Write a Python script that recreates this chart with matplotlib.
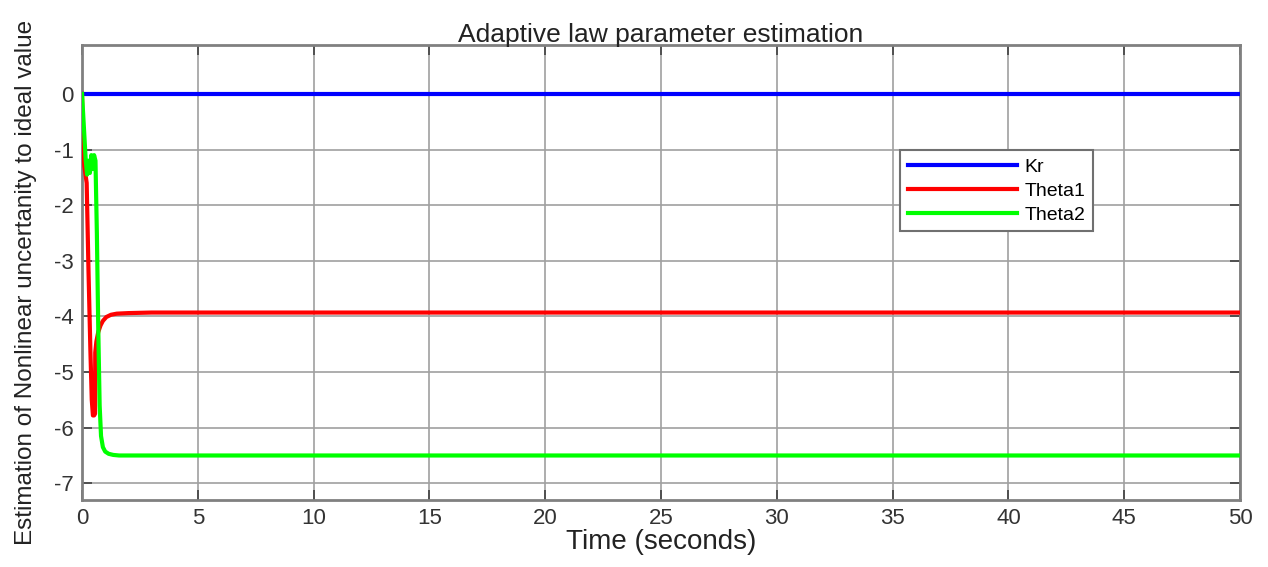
import matplotlib
matplotlib.use("Agg")
import matplotlib.pyplot as plt
import numpy as np

# ---- data ----
kr_t = [0, 50]
kr_v = [0, 0]

theta1_t = [0, 0.03, 0.1, 0.2, 0.28, 0.36, 0.42, 0.47, 0.52, 0.56, 0.57, 0.62, 0.7, 0.8, 0.9, 1.05, 1.25, 1.5, 2.0, 3.0, 5.0, 50]
theta1_v = [0, -0.8, -1.3, -1.6, -3.2, -4.6, -5.5, -5.78, -5.78, -5.75, -4.65, -4.45, -4.28, -4.16, -4.08, -4.01, -3.97, -3.95, -3.94, -3.93, -3.93, -3.93]

theta2_t = [0, 0.08, 0.16, 0.22, 0.28, 0.34, 0.4, 0.46, 0.52, 0.58, 0.64, 0.7, 0.76, 0.82, 0.9, 1.0, 1.15, 1.35, 1.6, 2.0, 3.0, 50]
theta2_v = [0, -0.6, -1.2, -1.45, -1.2, -1.42, -1.1, -1.35, -1.1, -1.2, -2.5, -4.2, -5.6, -6.15, -6.35, -6.43, -6.47, -6.49, -6.5, -6.5, -6.5, -6.5]

labels = ["Kr", "Theta1", "Theta2"]
xticks = list(range(0, 51, 5))
yticks = list(range(-7, 1))

# ---- figure ----
plt.rcParams['font.family'] = ['Liberation Sans', 'DejaVu Sans']
plt.rcParams['axes.unicode_minus'] = False
fig = plt.figure(figsize=(12.68, 5.67), dpi=100)
ax = fig.add_axes([0.0647, 0.1182, 0.9133, 0.8024])

lw = 3.0
ax.plot(kr_t, kr_v, color='#0000ff', lw=lw, label=labels[0], zorder=3)
ax.plot(theta1_t, theta1_v, color='#ff0000', lw=lw, label=labels[1], zorder=4)
ax.plot(theta2_t, theta2_v, color='#00ff00', lw=lw, label=labels[2], zorder=5)

ax.set_xlim(0, 50)
ax.set_ylim(-7.3, 0.88)
ax.set_xticks(xticks)
ax.set_yticks(yticks)
ax.grid(True, color='#a0a0a0', lw=1.2, ls='-')
ax.set_axisbelow(True)

ax.tick_params(direction='in', top=True, right=True, length=7, width=1.2,
               colors='#404040', labelsize=16, labelcolor='#333333', pad=6)
for s in ax.spines.values():
    s.set_color('#808080')
    s.set_linewidth(2.0)

ax.set_title("Adaptive law parameter estimation", fontsize=19, color='#222222', pad=2)
ax.set_xlabel("Time (seconds)", fontsize=20, color='#222222', labelpad=0)
ax.set_ylabel("Estimation of Nonlinear uncertanity to ideal value", fontsize=17.5,
              color='#222222')
ax.yaxis.set_label_coords(-0.039, 0.479)

leg = ax.legend(loc='upper left', bbox_to_anchor=(0.7064, 0.769), fontsize=14,
                handlelength=5.6, fancybox=False, framealpha=1, edgecolor='#707070',
                borderpad=0.4, labelspacing=0.33, handletextpad=0.4, borderaxespad=0)
leg.get_frame().set_linewidth(1.5)

fig.savefig("out.png", dpi=100)
